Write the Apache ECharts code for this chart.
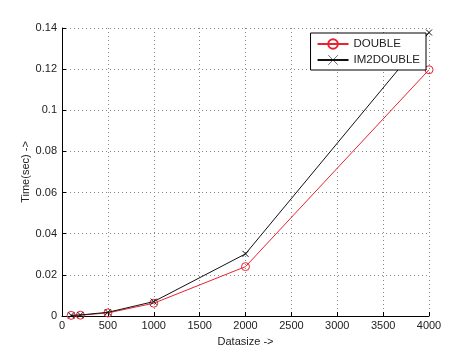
<!DOCTYPE html>
<html>
<head>
<meta charset="utf-8">
<script src="https://cdn.jsdelivr.net/npm/echarts@6/dist/echarts.min.js"></script>
<style>
  html, body { margin: 0; padding: 0; background: #fff; }
  #main { width: 474px; height: 355px; }
</style>
</head>
<body>
<div id="main"></div>
<script>
  // data
  const dataSize = [100, 200, 500, 1000, 2000, 4000];
  const doubleTime = [0.0003, 0.0004, 0.0015, 0.0062, 0.024, 0.1197];
  const im2doubleTime = [0.0003, 0.0005, 0.0018, 0.007, 0.0302, 0.1378];

  const toPairs = (xs, ys) => xs.map((x, i) => [x, ys[i]]);

  const chart = echarts.init(document.getElementById('main'));
  const textStyle = { color: '#222', fontFamily: 'Liberation Sans, Arial, sans-serif', fontSize: 11 };
  const dotted = { show: true, lineStyle: { color: '#888', type: [1, 3], width: 1 } };

  const option = {
    animation: false,
    backgroundColor: '#fff',
    grid: { left: 62, right: 45, top: 28, bottom: 39 },
    legend: {
      orient: 'vertical',
      right: 48,
      top: 33,
      padding: [5, 6, 4, 6],
      itemGap: 4,
      itemWidth: 31,
      itemHeight: 12,
      borderColor: '#000',
      borderWidth: 1,
      backgroundColor: '#fff',
      textStyle: Object.assign({}, textStyle, { fontSize: 11.5 }),
      data: [
        { name: 'DOUBLE' },
        { name: 'IM2DOUBLE', itemStyle: { borderWidth: 0.6 } }
      ]
    },
    xAxis: {
      type: 'value',
      min: 0,
      max: 4000,
      interval: 500,
      name: 'Datasize ->',
      nameLocation: 'middle',
      nameGap: 20,
      nameMoveOverlap: false,
      nameTextStyle: textStyle,
      axisLine: { lineStyle: { color: '#000' } },
      axisTick: { inside: true, length: 4, lineStyle: { color: '#000' } },
      axisLabel: Object.assign({ margin: 4, formatter: v => String(v) }, textStyle),
      splitLine: dotted
    },
    yAxis: {
      type: 'value',
      min: 0,
      max: 0.14,
      interval: 0.02,
      name: 'Time(sec) ->',
      nameLocation: 'middle',
      nameGap: 31,
      nameMoveOverlap: false,
      nameTextStyle: textStyle,
      axisLine: { show: true, lineStyle: { color: '#000' } },
      axisTick: { show: true, inside: true, length: 4, lineStyle: { color: '#000' } },
      axisLabel: Object.assign({ margin: 5 }, textStyle),
      splitLine: dotted
    },
    series: [
      {
        name: 'DOUBLE',
        type: 'line',
        data: toPairs(dataSize, doubleTime),
        symbol: 'circle',
        symbolSize: 8,
        showAllSymbol: true,
        lineStyle: { color: '#e8232f', width: 1 },
        itemStyle: { color: 'rgba(255,255,255,0)', borderColor: '#e8232f', borderWidth: 1 },
        z: 2
      },
      {
        name: 'IM2DOUBLE',
        type: 'line',
        data: toPairs(dataSize, im2doubleTime),
        symbol: 'path://M0,0L10,10M10,0L0,10',
        symbolSize: 6,
        showAllSymbol: true,
        lineStyle: { color: '#111', width: 1 },
        itemStyle: { color: 'rgba(0,0,0,0)', borderColor: '#111', borderWidth: 1 },
        z: 3
      }
    ]
  };

  chart.setOption(option);
</script>
</body>
</html>
